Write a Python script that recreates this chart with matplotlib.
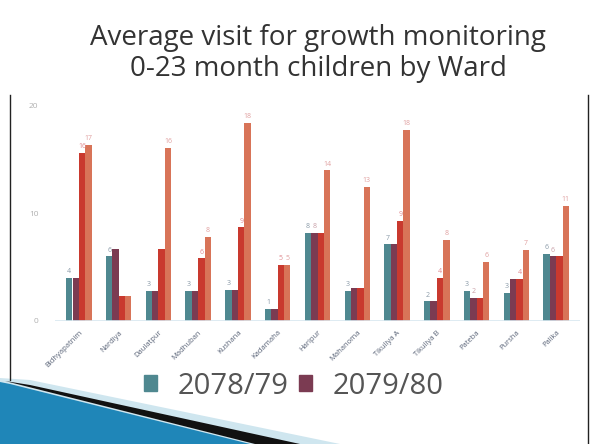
import matplotlib
matplotlib.use("Agg")
import matplotlib.pyplot as plt
from matplotlib.patches import Patch, Polygon
from matplotlib.lines import Line2D
import numpy as np

plt.rcParams['font.family'] = ['Open Sans', 'DejaVu Sans']

wards = ["Bidhyapatnim", "Nardiya", "Daulatpur", "Madhuban", "Kushana", "Kadamaha",
         "Haripur", "Mahanoma", "Tikuliya A", "Tikuliya B", "Pateba", "Pursha", "Palika"]

s1 = [4.0, 6.0, 2.8, 2.8, 2.9, 1.1, 8.2, 2.8, 7.1, 1.8, 2.8, 2.6, 6.2]
s2 = [4.0, 6.7, 2.8, 2.8, 2.9, 1.1, 8.2, 3.0, 7.1, 1.8, 2.1, 3.9, 6.0]
s3 = [15.6, 2.3, 6.7, 5.8, 8.7, 5.2, 8.2, 3.0, 9.3, 4.0, 2.1, 3.9, 6.0]
s4 = [16.4, 2.3, 16.1, 7.8, 18.4, 5.2, 14.0, 12.5, 17.8, 7.5, 5.5, 6.6, 10.7]

lab1 = ["4", "6", "3", "3", "3", "1", "8", "3", "7", "2", "3", "3", "6"]
lab2 = ["", "", "", "", "", "", "8", "", "", "", "2", "", "6"]
lab3 = ["16", "", "", "6", "9", "5", "", "", "9", "4", "", "4", ""]
lab4 = ["17", "", "16", "8", "18", "5", "14", "13", "18", "8", "6", "7", "11"]

series = [s1, s2, s3, s4]
labels = [lab1, lab2, lab3, lab4]
colors = ["#4f8890", "#7b3b52", "#c9392e", "#d87458"]
lab_colors = ["#8a9aa8", "#c9a0a8", "#e08a90", "#e0a0a0"]

W, H = 592, 444
fig = plt.figure(figsize=(W / 100, H / 100), dpi=100)
fig.patch.set_facecolor("white")

ax = fig.add_axes([55 / W, 1 - 320.7 / H, (580 - 55) / W, (320.7 - 106) / H])
x = np.arange(len(wards))
bw = 0.16
for i, (vals, c, labs, lc) in enumerate(zip(series, colors, labels, lab_colors)):
    bars = ax.bar(x + (i - 1.5) * bw, vals, width=bw, color=c, linewidth=0)
    ax.bar_label(bars, labels=labs, fontsize=5, color=lc, padding=2)

ax.set_xlim(-0.6, len(wards) - 0.4)
ax.set_ylim(0, 20)
ax.set_yticks([0, 10, 20])
ax.tick_params(axis='y', length=0, labelsize=6, labelcolor="#b0b0b0", pad=12)
ax.set_xticks(x)
ax.set_xticklabels(wards, rotation=45, ha='right', rotation_mode='anchor',
                   fontsize=5.5, color="#5a6478")
ax.tick_params(axis='x', length=0, pad=6)
for sp in ax.spines.values():
    sp.set_visible(False)
ax.axhline(0, color="#d8e8f0", lw=1.2)

fig.text(318 / W, 1 - 38 / H, "Average visit for growth monitoring",
         ha='center', va='center', fontsize=20, color="#333333")
fig.text(318 / W, 1 - 69 / H, "0-23 month children by Ward",
         ha='center', va='center', fontsize=20, color="#333333")

handles = [Patch(color=colors[0]), Patch(color=colors[1])]
fig.legend(handles, ["2078/79", "2079/80"], loc='center', bbox_to_anchor=(294 / W, 1 - 386 / H),
           ncol=2, frameon=False, fontsize=21, handlelength=0.45, handleheight=0.45,
           columnspacing=0.35, handletextpad=0.7, labelcolor="#555555")

# slide frame lines
fig.add_artist(Line2D([10 / W, 10 / W], [1 - 95 / H, 1 - 380 / H], color="#222222", lw=1))
fig.add_artist(Line2D([588 / W, 588 / W], [1 - 95 / H, 1 - 444 / H], color="#222222", lw=1))

def P(pts):
    return [(px / W, 1 - py / H) for px, py in pts]

fig.add_artist(Polygon(P([(0, 378), (30, 380), (340, 444), (0, 444)]), closed=True,
                       facecolor="#cfe6ef", edgecolor='none', transform=fig.transFigure))
fig.add_artist(Polygon(P([(5, 381), (30, 385), (300, 444), (255, 444)]), closed=True,
                       facecolor="#111111", edgecolor='none', transform=fig.transFigure))
fig.add_artist(Polygon(P([(0, 382), (10, 384), (250, 444), (0, 444)]), closed=True,
                       facecolor="#1f86b8", edgecolor='none', transform=fig.transFigure))

fig.savefig("out.png", dpi=100, facecolor="white")
